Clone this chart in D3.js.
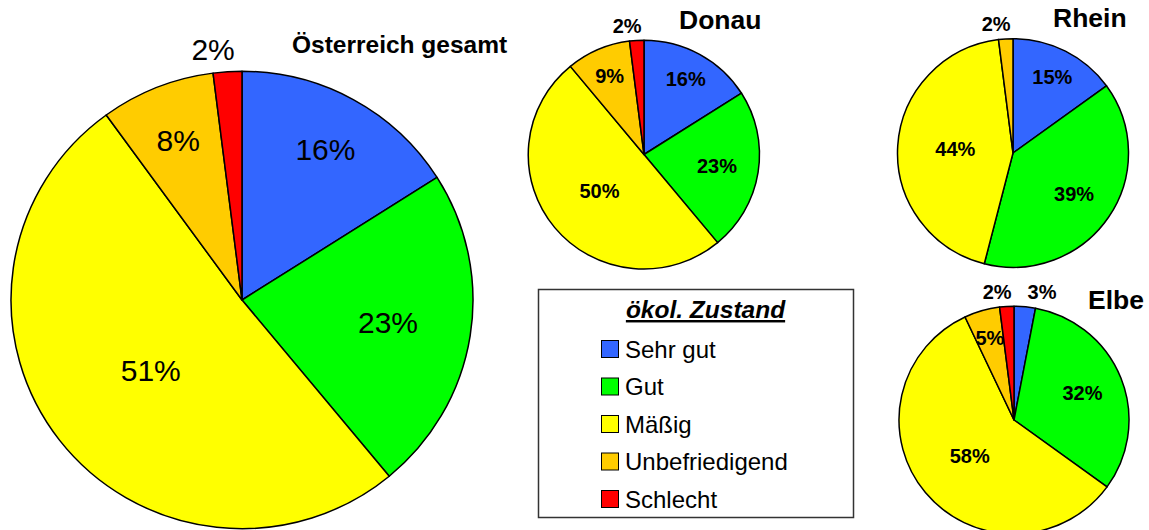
<!DOCTYPE html>
<html>
<head>
<meta charset="utf-8">
<script src="https://cdn.jsdelivr.net/npm/d3@7"></script>
<style>
    body { margin: 0; background: #fff; }
    svg { display: block; font-family: Arial, "Liberation Sans", sans-serif; }
</style>
</head>
<body>
<svg id="mainSvg" width="1149" height="530"></svg>
<script>
// categories and colours
let categories = ["Sehr gut", "Gut", "Mäßig", "Unbefriedigend", "Schlecht"];
let colors = ["#3366FF", "#00FF00", "#FFFF00", "#FFCC00", "#FF0000"];
let legendTitle = "ökol. Zustand";

// shares in percent, same order as categories
let oesterreich = [16, 23, 51, 8, 2];
let donau = [16, 23, 50, 9, 2];
let rhein = [15, 39, 44, 2, 0];
let elbe = [3, 32, 58, 5, 2];

let svg = d3.select("#mainSvg");

let color = d3.scaleOrdinal().domain(categories).range(colors);

// the source picture is a little squeezed vertically
let sy = 0.99;

// layout of each pie
let pies = [
    { title: "Österreich gesamt", values: oesterreich, cx: 242, cy: 300, r: 231,
      tx: 292, ty: 53, titleSize: 24.5, labelSize: 30, bold: false },
    { title: "Donau", values: donau, cx: 644, cy: 154.5, r: 115.5,
      tx: 679, ty: 29, titleSize: 26.5, labelSize: 20, bold: true },
    { title: "Rhein", values: rhein, cx: 1013, cy: 153, r: 115.5,
      tx: 1053, ty: 27, titleSize: 26.5, labelSize: 20, bold: true },
    { title: "Elbe", values: elbe, cx: 1014, cy: 420, r: 115,
      tx: 1088, ty: 309, titleSize: 26.5, labelSize: 20, bold: true },
];

let pie = d3.pie().sort(null).value((d) => d.value);

let drawPie = function (p) {
    let g = svg.append("g").attr("transform", `translate(${p.cx},${p.cy})`);
    let data = categories.map((c, i) => ({ cat: c, value: p.values[i] }));
    let arcs = pie(data).filter((d) => d.data.value > 0);
    let arc = d3.arc().innerRadius(0).outerRadius(p.r);

    g.append("g")
        .attr("transform", `scale(1,${sy})`)
        .selectAll("path")
        .data(arcs)
        .join("path")
        .attr("d", arc)
        .attr("fill", (d) => color(d.data.cat))
        .attr("stroke", "#000")
        .attr("stroke-width", 1.5)
        .attr("stroke-linejoin", "round");

    // label positions: big slices nearer the centre, tiny ones outside
    let labels = arcs.map((d) => {
        let v = d.data.value;
        let mid = (d.startAngle + d.endAngle) / 2;
        let outside = v < 4;
        let k = v >= 40 ? 0.5 : v >= 20 ? 0.64 : 0.75;
        let rr = outside ? p.r + 0.75 * p.labelSize : p.r * k;
        return { text: v + "%", x: Math.sin(mid) * rr, y: -Math.cos(mid) * rr * sy, outside: outside };
    });

    let txt = g.selectAll("text.lbl")
        .data(labels)
        .join("text")
        .attr("class", "lbl")
        .attr("text-anchor", "middle")
        .attr("dy", "0.35em")
        .attr("font-size", p.labelSize)
        .attr("font-weight", p.bold ? "bold" : "normal")
        .attr("fill", "#000")
        .text((d) => d.text);

    // measure, shift outside labels away from the middle and un-overlap them
    txt.each(function (d) { d.w = this.getComputedTextLength(); });
    let outs = labels.filter((d) => d.outside);
    outs.forEach((d) => { d.x += Math.sign(d.x) * 0.3 * d.w; });
    outs.sort((a, b) => a.x - b.x);
    for (let i = 1; i < outs.length; i++) {
        let a = outs[i - 1], b = outs[i];
        let gap = (a.w + b.w) / 2 + 16;
        if (Math.abs(a.y - b.y) < p.labelSize && b.x < a.x + gap) b.x = a.x + gap;
    }
    txt.attr("x", (d) => d.x).attr("y", (d) => d.y);

    svg.append("text")
        .attr("x", p.tx)
        .attr("y", p.ty)
        .attr("font-size", p.titleSize)
        .attr("font-weight", "bold")
        .text(p.title);
};

pies.forEach(drawPie);

// legend
let lx = 538, ly = 289, lw = 315, lh = 228;
let legend = svg.append("g");
legend.append("rect")
    .attr("x", lx + 0.5).attr("y", ly + 0.5)
    .attr("width", lw).attr("height", lh)
    .attr("fill", "#fff")
    .attr("stroke", "#333")
    .attr("stroke-width", 1.5);

legend.append("text")
    .attr("x", lx + lw / 2 + 10)
    .attr("y", ly + 29)
    .attr("text-anchor", "middle")
    .attr("font-size", 24.5)
    .attr("font-weight", "bold")
    .attr("font-style", "italic")
    .attr("text-decoration", "underline")
    .text(legendTitle);

let ys = d3.scalePoint().domain(categories).range([349, 499]);

let item = legend.selectAll("g.item")
    .data(categories)
    .join("g")
    .attr("class", "item")
    .attr("transform", (d) => `translate(601,${ys(d)})`);

item.append("rect")
    .attr("x", 0.5).attr("y", -8.5)
    .attr("width", 17).attr("height", 17)
    .attr("fill", (d) => color(d))
    .attr("stroke", "#000")
    .attr("stroke-width", 1);

item.append("text")
    .attr("x", 24)
    .attr("y", 0)
    .attr("dy", "0.36em")
    .attr("font-size", 24)
    .text((d) => d);
</script>
</body>
</html>
